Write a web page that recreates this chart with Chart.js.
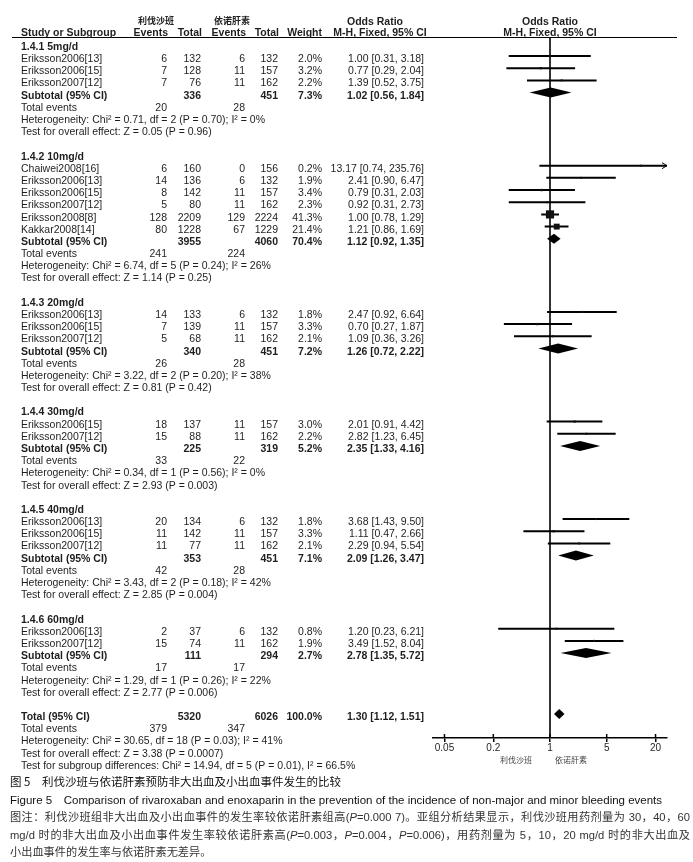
<!DOCTYPE html>
<html>
<head>
<meta charset="utf-8">
<script src="https://cdn.jsdelivr.net/npm/chart.js@4.4.0/dist/chart.umd.min.js"></script>
<style>
  body { margin: 0; background: #fff; }
  #wrap { position: relative; width: 693px; height: 862px; overflow: hidden; }
  #forest { position: absolute; left: 0; top: 0; }
  .cap { position: absolute; left: 10px; width: 680px; white-space: nowrap; line-height: 16px;
         font-family: "Liberation Sans", Arial, "Noto Sans CJK SC", sans-serif; color: #333; }
  .zh { font-family: "Noto Sans CJK SC", sans-serif; }
  .just { text-align: justify; text-align-last: justify; }
</style>
</head>
<body>
<div id="wrap">
  <canvas id="forest" width="693" height="862"></canvas>
  <div class="cap zh" style="top:773px; font-size:11.5px; color:#111;">图 5　利伐沙班与依诺肝素预防非大出血及小出血事件发生的比较</div>
  <div class="cap" style="top:792px; font-size:11.5px; color:#111;">Figure 5　Comparison of rivaroxaban and enoxaparin in the prevention of the incidence of non-major and minor bleeding events</div>
  <div class="cap just" style="top:809px; font-size:11.2px;">图注：利伐沙班组非大出血及小出血事件的发生率较依诺肝素组高(<i>P</i>=0.000 7)。亚组分析结果显示，利伐沙班用药剂量为 30，40，60</div>
  <div class="cap just" style="top:827px; font-size:11.2px;">mg/d 时的非大出血及小出血事件发生率较依诺肝素高(<i>P</i>=0.003，<i>P</i>=0.004，<i>P</i>=0.006)，用药剂量为 5，10，20 mg/d 时的非大出血及</div>
  <div class="cap" style="top:844px; font-size:11.2px;">小出血事件的发生率与依诺肝素无差异。</div>
</div>
<script>
// Subgroups
const groupLabels = ['1.4.1 5mg/d', '1.4.2 10mg/d', '1.4.3 20mg/d', '1.4.4 30mg/d', '1.4.5 40mg/d', '1.4.6 60mg/d'];

// Individual studies
const studyGroup = [0, 0, 0, 1, 1, 1, 1, 1, 1, 2, 2, 2, 3, 3, 4, 4, 4, 5, 5];
const studyNames = ['Eriksson2006[13]', 'Eriksson2006[15]', 'Eriksson2007[12]',
    'Chaiwei2008[16]', 'Eriksson2006[13]', 'Eriksson2006[15]', 'Eriksson2007[12]', 'Eriksson2008[8]', 'Kakkar2008[14]',
    'Eriksson2006[13]', 'Eriksson2006[15]', 'Eriksson2007[12]',
    'Eriksson2006[15]', 'Eriksson2007[12]',
    'Eriksson2006[13]', 'Eriksson2006[15]', 'Eriksson2007[12]',
    'Eriksson2006[13]', 'Eriksson2007[12]'];
const rivaEvents = [6, 7, 7, 6, 14, 8, 5, 128, 80, 14, 7, 5, 18, 15, 20, 11, 11, 2, 15];
const rivaTotal = [132, 128, 76, 160, 136, 142, 80, 2209, 1228, 133, 139, 68, 137, 88, 134, 142, 77, 37, 74];
const enoxEvents = [6, 11, 11, 0, 6, 11, 11, 129, 67, 6, 11, 11, 11, 11, 6, 11, 11, 6, 11];
const enoxTotal = [132, 157, 162, 156, 132, 157, 162, 2224, 1229, 132, 157, 162, 157, 162, 132, 157, 162, 132, 162];
const weights = [2.0, 3.2, 2.2, 0.2, 1.9, 3.4, 2.3, 41.3, 21.4, 1.8, 3.3, 2.1, 3.0, 2.2, 1.8, 3.3, 2.1, 0.8, 1.9];
const oddsRatio = [1.00, 0.77, 1.39, 13.17, 2.41, 0.79, 0.92, 1.00, 1.21, 2.47, 0.70, 1.09, 2.01, 2.82, 3.68, 1.11, 2.29, 1.20, 3.49];
const ciLow = [0.31, 0.29, 0.52, 0.74, 0.90, 0.31, 0.31, 0.78, 0.86, 0.92, 0.27, 0.36, 0.91, 1.23, 1.43, 0.47, 0.94, 0.23, 1.52];
const ciHigh = [3.18, 2.04, 3.75, 235.76, 6.47, 2.03, 2.73, 1.29, 1.69, 6.64, 1.87, 3.26, 4.42, 6.45, 9.50, 2.66, 5.54, 6.21, 8.04];

// Subtotals
const subRivaTotal = [336, 3955, 340, 225, 353, 111];
const subEnoxTotal = [451, 4060, 451, 319, 451, 294];
const subWeight = [7.3, 70.4, 7.2, 5.2, 7.1, 2.7];
const subOR = [1.02, 1.12, 1.26, 2.35, 2.09, 2.78];
const subLow = [0.56, 0.92, 0.72, 1.33, 1.26, 1.35];
const subHigh = [1.84, 1.35, 2.22, 4.16, 3.47, 5.72];
const subRivaEvents = [20, 241, 26, 33, 42, 17];
const subEnoxEvents = [28, 224, 28, 22, 28, 17];
const hetChi = ['0.71', '6.74', '3.22', '0.34', '3.43', '1.29'];
const hetDf = [2, 5, 2, 1, 2, 1];
const hetP = ['0.70', '0.24', '0.20', '0.56', '0.18', '0.26'];
const hetI2 = [0, 26, 38, 0, 42, 22];
const zValue = ['0.05', '1.14', '0.81', '2.93', '2.85', '2.77'];
const zP = ['0.96', '0.25', '0.42', '0.003', '0.004', '0.006'];

// Overall
const totalRiva = 5320, totalEnox = 6026;
const totalOR = 1.30, totalLow = 1.12, totalHigh = 1.51;
const totalRivaEvents = 379, totalEnoxEvents = 347;
const totalLines = [
    'Heterogeneity: Chi² = 30.65, df = 18 (P = 0.03); I² = 41%',
    'Test for overall effect: Z = 3.38 (P = 0.0007)',
    'Test for subgroup differences: Chi² = 14.94, df = 5 (P = 0.01), I² = 66.5%'
];

// Axis
const tickValues = [0.05, 0.2, 1, 5, 20];
const axisEnd = 27.7;

// Row layout: header, studies, subtotal, total events, heterogeneity, test, blank
const groupRows = [], studyRows = [], subRows = [];
let row = 0;
groupLabels.forEach((label, g) => {
    groupRows.push(row++);
    studyGroup.forEach((sg, i) => { if (sg === g) studyRows[i] = row++; });
    subRows.push(row);
    row += 5;
});
const totalRow = row;

const FONT = '"Liberation Sans", Arial, sans-serif';
const TEXT = '#1e1e1e';
const col = { name: 21, evR: 167, totR: 201, evE: 245, totE: 278, weight: 322, ci: 424 };

function ciText(or, lo, hi) {
    return `${or.toFixed(2)} [${lo.toFixed(2)}, ${hi.toFixed(2)}]`;
}

function put(ctx, str, px, py, align, bold, size) {
    ctx.font = (bold ? 'bold ' : '') + (size || 10.5) + 'px ' + FONT;
    ctx.textAlign = align || 'left';
    ctx.fillText(str, px, py);
}

const forestPlugin = {
    id: 'forestPlugin',
    beforeDatasetsDraw(chart) {
        const { ctx, chartArea, scales: { x } } = chart;
        const x1 = x.getPixelForValue(1);
        ctx.save();
        ctx.strokeStyle = '#333';
        ctx.lineWidth = 2;
        ctx.beginPath();
        ctx.moveTo(x1, chartArea.top);
        ctx.lineTo(x1, chartArea.bottom);
        ctx.stroke();
        ctx.restore();
    },
    afterDatasetsDraw(chart) {
        const { ctx, chartArea, scales: { x, y } } = chart;
        ctx.save();
        ctx.fillStyle = '#000';
        const diamond = (lo, est, hi, r) => {
            const py = y.getPixelForValue(r);
            ctx.beginPath();
            ctx.moveTo(x.getPixelForValue(lo), py);
            ctx.lineTo(x.getPixelForValue(est), py - 5);
            ctx.lineTo(x.getPixelForValue(hi), py);
            ctx.lineTo(x.getPixelForValue(est), py + 5);
            ctx.closePath();
            ctx.fill();
        };
        subRows.forEach((r, g) => diamond(subLow[g], subOR[g], subHigh[g], r));
        diamond(totalLow, totalOR, totalHigh, totalRow);

        // arrows for intervals running past the axis
        ctx.strokeStyle = '#000';
        ctx.lineWidth = 1;
        ciHigh.forEach((hi, i) => {
            if (hi > axisEnd) {
                const py = y.getPixelForValue(studyRows[i]);
                const px = chartArea.right;
                ctx.beginPath();
                ctx.moveTo(px - 5, py - 3);
                ctx.lineTo(px, py);
                ctx.lineTo(px - 5, py + 3);
                ctx.stroke();
            }
        });
        ctx.restore();
    },
    afterDraw(chart) {
        const { ctx, chartArea, scales: { x, y } } = chart;
        const rowY = r => y.getPixelForValue(r) + 3.2;
        ctx.save();
        ctx.fillStyle = TEXT;
        ctx.textBaseline = 'middle';

        // upper half of the axis ticks
        ctx.strokeStyle = '#000';
        ctx.lineWidth = 1.5;
        tickValues.forEach(v => {
            const px = x.getPixelForValue(v);
            ctx.beginPath();
            ctx.moveTo(px, chartArea.bottom - 4);
            ctx.lineTo(px, chartArea.bottom);
            ctx.stroke();
        });

        // header
        ctx.strokeStyle = '#000';
        ctx.lineWidth = 1;
        ctx.beginPath();
        ctx.moveTo(12, chartArea.top + 0.5);
        ctx.lineTo(677, chartArea.top + 0.5);
        ctx.stroke();

        const h1 = chartArea.top - 15, h2 = chartArea.top - 4;
        ctx.font = 'bold 9px "Noto Sans CJK SC", sans-serif';
        ctx.textAlign = 'center';
        ctx.fillText('利伐沙班', 156, h1 - 1);
        ctx.fillText('依诺肝素', 232, h1 - 1);
        put(ctx, 'Odds Ratio', 375, h1, 'center', true);
        put(ctx, 'Odds Ratio', x.getPixelForValue(1), h1, 'center', true);
        put(ctx, 'Study or Subgroup', col.name, h2, 'left', true);
        put(ctx, 'Events', col.evR + 1, h2, 'right', true);
        put(ctx, 'Total', col.totR + 1, h2, 'right', true);
        put(ctx, 'Events', col.evE + 1, h2, 'right', true);
        put(ctx, 'Total', col.totE + 1, h2, 'right', true);
        put(ctx, 'Weight', col.weight, h2, 'right', true);
        put(ctx, 'M-H, Fixed, 95% CI', 380, h2, 'center', true);
        put(ctx, 'M-H, Fixed, 95% CI', x.getPixelForValue(1), h2, 'center', true);

        // subgroups
        groupLabels.forEach((label, g) => {
            put(ctx, label, col.name, rowY(groupRows[g]), 'left', true);
            const s = rowY(subRows[g]);
            put(ctx, 'Subtotal (95% CI)', col.name, s, 'left', true);
            put(ctx, String(subRivaTotal[g]), col.totR, s, 'right', true);
            put(ctx, String(subEnoxTotal[g]), col.totE, s, 'right', true);
            put(ctx, subWeight[g].toFixed(1) + '%', col.weight, s, 'right', true);
            put(ctx, ciText(subOR[g], subLow[g], subHigh[g]), col.ci, s, 'right', true);
            const t = rowY(subRows[g] + 1);
            put(ctx, 'Total events', col.name, t, 'left');
            put(ctx, String(subRivaEvents[g]), col.evR, t, 'right');
            put(ctx, String(subEnoxEvents[g]), col.evE, t, 'right');
            put(ctx, `Heterogeneity: Chi² = ${hetChi[g]}, df = ${hetDf[g]} (P = ${hetP[g]}); I² = ${hetI2[g]}%`,
                col.name, rowY(subRows[g] + 2), 'left');
            put(ctx, `Test for overall effect: Z = ${zValue[g]} (P = ${zP[g]})`,
                col.name, rowY(subRows[g] + 3), 'left');
        });

        // studies
        studyNames.forEach((name, i) => {
            const s = rowY(studyRows[i]);
            put(ctx, name, col.name, s, 'left');
            put(ctx, String(rivaEvents[i]), col.evR, s, 'right');
            put(ctx, String(rivaTotal[i]), col.totR, s, 'right');
            put(ctx, String(enoxEvents[i]), col.evE, s, 'right');
            put(ctx, String(enoxTotal[i]), col.totE, s, 'right');
            put(ctx, weights[i].toFixed(1) + '%', col.weight, s, 'right');
            put(ctx, ciText(oddsRatio[i], ciLow[i], ciHigh[i]), col.ci, s, 'right');
        });

        // overall
        const t0 = rowY(totalRow);
        put(ctx, 'Total (95% CI)', col.name, t0, 'left', true);
        put(ctx, String(totalRiva), col.totR, t0, 'right', true);
        put(ctx, String(totalEnox), col.totE, t0, 'right', true);
        put(ctx, '100.0%', col.weight, t0, 'right', true);
        put(ctx, ciText(totalOR, totalLow, totalHigh), col.ci, t0, 'right', true);
        const t1 = rowY(totalRow + 1);
        put(ctx, 'Total events', col.name, t1, 'left');
        put(ctx, String(totalRivaEvents), col.evR, t1, 'right');
        put(ctx, String(totalEnoxEvents), col.evE, t1, 'right');
        totalLines.forEach((line, k) => put(ctx, line, col.name, rowY(totalRow + 2 + k), 'left'));

        // favours labels under the axis
        const x1 = x.getPixelForValue(1);
        ctx.fillStyle = '#444';
        ctx.font = '8px "Noto Sans CJK SC", sans-serif';
        ctx.textAlign = 'right';
        ctx.fillText('利伐沙班', x1 - 18, chartArea.bottom + 22);
        ctx.textAlign = 'left';
        ctx.fillText('依诺肝素', x1 + 5, chartArea.bottom + 22);
        ctx.restore();
    }
};

const ciSegments = [];
studyNames.forEach((name, i) => {
    ciSegments.push({ x: ciLow[i], y: studyRows[i] });
    ciSegments.push({ x: ciHigh[i], y: studyRows[i] });
    ciSegments.push({ x: ciHigh[i], y: null });
});

new Chart(document.getElementById('forest'), {
    type: 'scatter',
    data: {
        datasets: [
            {
                label: 'Studies',
                data: oddsRatio.map((v, i) => ({ x: v, y: studyRows[i] })),
                pointStyle: 'rect',
                pointRadius: weights.map(w => Math.max(2, 1.27 * Math.sqrt(w)) / Math.SQRT2),
                backgroundColor: '#111',
                borderWidth: 0
            },
            {
                label: 'CI',
                data: ciSegments,
                showLine: true,
                spanGaps: false,
                pointRadius: 0,
                borderColor: '#000',
                borderWidth: 2
            }
        ]
    },
    options: {
        responsive: false,
        animation: false,
        events: [],
        layout: { padding: { left: 433, right: 26, top: 37, bottom: 102 } },
        plugins: { legend: { display: false }, tooltip: { enabled: false } },
        scales: {
            x: {
                type: 'logarithmic',
                min: 1 / axisEnd,
                max: axisEnd,
                afterBuildTicks: axis => { axis.ticks = tickValues.map(v => ({ value: v })); },
                afterFit: axis => { axis.height = 22; },
                ticks: {
                    autoSkip: false,
                    maxRotation: 0,
                    padding: 0,
                    color: TEXT,
                    font: { family: FONT, size: 10 },
                    callback: v => String(v)
                },
                grid: { drawOnChartArea: false, drawTicks: true, tickLength: 4, color: '#000', lineWidth: 1.5 },
                border: { color: '#000', width: 1.5 }
            },
            y: { type: 'linear', display: false, reverse: true, min: -0.56, max: 56.97 }
        }
    },
    plugins: [forestPlugin]
});
</script>
</body>
</html>
